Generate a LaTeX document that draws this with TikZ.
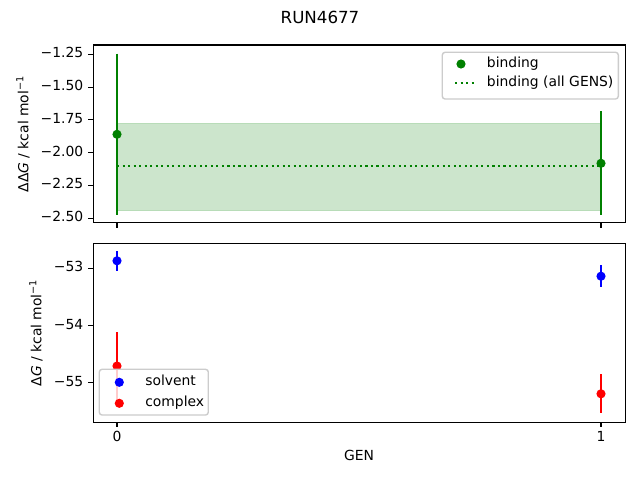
\documentclass[tikz,border=0pt]{standalone}
\usepackage{fontspec}
\setmainfont{DejaVu Sans}
\definecolor{mgreen}{HTML}{008000}
\definecolor{mblue}{HTML}{0000FF}
\definecolor{mred}{HTML}{FF0000}
\definecolor{legedge}{HTML}{CCCCCC}
\definecolor{bandedge}{HTML}{B8DCB8}
\begin{document}
\begin{tikzpicture}[x=0.72pt,y=-0.72pt,
  lab/.style={inner sep=0pt,font=\fontsize{10}{12}\selectfont,text height=0.73em,text depth=0.24em},
  ttl/.style={inner sep=0pt,font=\fontsize{12}{14}\selectfont},
  frame/.style={line width=0.8pt,black},
  tck/.style={line width=0.8pt,black},
  ebar/.style={line width=1.5pt},
  dotline/.style={line width=1.5pt,mgreen,dash pattern=on 1.5pt off 2.475pt},
  dotm/.style={radius=3.3pt},
  legbox/.style={draw=legedge,line width=1pt,fill=white,fill opacity=0.8,rounded corners=2pt}]
\useasboundingbox (0,0) rectangle (640,480);
\fill[white] (0,0) rectangle (640,480);
% title
\node[ttl] (title) at (320,17) {RUN4677};

% ===== top axes =====
\fill[mgreen,fill opacity=0.2] (117,123.3) rectangle (601,210.3);
\draw[bandedge,line width=0.8pt] (117,123.3) rectangle (601,210.3);
\draw[dotline] (117,165.7) -- (601,165.7);
\draw[ebar,mgreen] (117,53.5) -- (117,215);
\fill[mgreen] (117,134.3) circle[dotm];
\draw[ebar,mgreen] (601,111) -- (601,215);
\fill[mgreen] (601,163.3) circle[dotm];
\draw[frame] (93.3,45) rectangle (625.3,222.7);
% y ticks
\foreach \yy/\tx [count=\i] in {54.3/−1.25,87.1/−1.50,119.9/−1.75,152.7/−2.00,185.5/−2.25,218.3/−2.50}{
  \draw[tck] (93.3,\yy) -- (88.4,\yy);
  \node[lab,anchor=east] (tl\i) at (83.5,\yy) {\tx};
}
\draw[tck] (117,222.7) -- (117,227.6);
\draw[tck] (601,222.7) -- (601,227.6);
\node[lab,rotate=90] (ylabT) at (25,134) {ΔΔ\textit{G} / kcal mol\textsuperscript{−1}};
% legend top
\draw[legbox] (442.3,52.3) rectangle (618.3,99);
\fill[mgreen] (461,64) circle[dotm];
\node[lab,anchor=west] (legA) at (486.7,64) {binding};
\coordinate (dlA) at (455,83.3);
\coordinate (dlB) at (475,83.3);
\draw[dotline] (dlA) -- (dlB);
\node[lab,anchor=west] (legB) at (486.7,83.3) {binding (all GENS)};

% ===== bottom axes =====
\draw[ebar,mblue] (117,251) -- (117,270.5);
\fill[mblue] (117,260.8) circle[dotm];
\draw[ebar,mblue] (601,265) -- (601,286.5);
\fill[mblue] (601,276.2) circle[dotm];
\draw[ebar,mred] (117,332.3) -- (117,399.7);
\fill[mred] (117,366) circle[dotm];
\draw[ebar,mred] (601,374.3) -- (601,413.3);
\fill[mred] (601,393.8) circle[dotm];
\draw[frame] (93.3,243.3) rectangle (625.3,422.3);
\foreach \yy/\tx [count=\i] in {268.3/−53,325.9/−54,382.7/−55}{
  \draw[tck] (93.3,\yy) -- (88.4,\yy);
  \node[lab,anchor=east] (bl\i) at (83.5,\yy) {\tx};
}
\draw[tck] (117,422.3) -- (117,427.2);
\draw[tck] (601,422.3) -- (601,427.2);
\node[lab,anchor=north] (x0) at (117,431.5) {0};
\node[lab,anchor=north] (x1) at (601,431.5) {1};
\node[lab] (xlab) at (359,457) {GEN};
\node[lab,rotate=90] (ylabB) at (38,332.8) {Δ\textit{G} / kcal mol\textsuperscript{−1}};
% legend bottom
\draw[legbox] (99.3,369.3) rectangle (208.3,415);
\fill[mblue] (119.3,382.3) circle[dotm];
\node[lab,anchor=west] (legS) at (145,382.3) {solvent};
\fill[mred] (119.3,403.3) circle[dotm];
\node[lab,anchor=west] (legC) at (145,403.3) {complex};
\end{tikzpicture}
\end{document}
